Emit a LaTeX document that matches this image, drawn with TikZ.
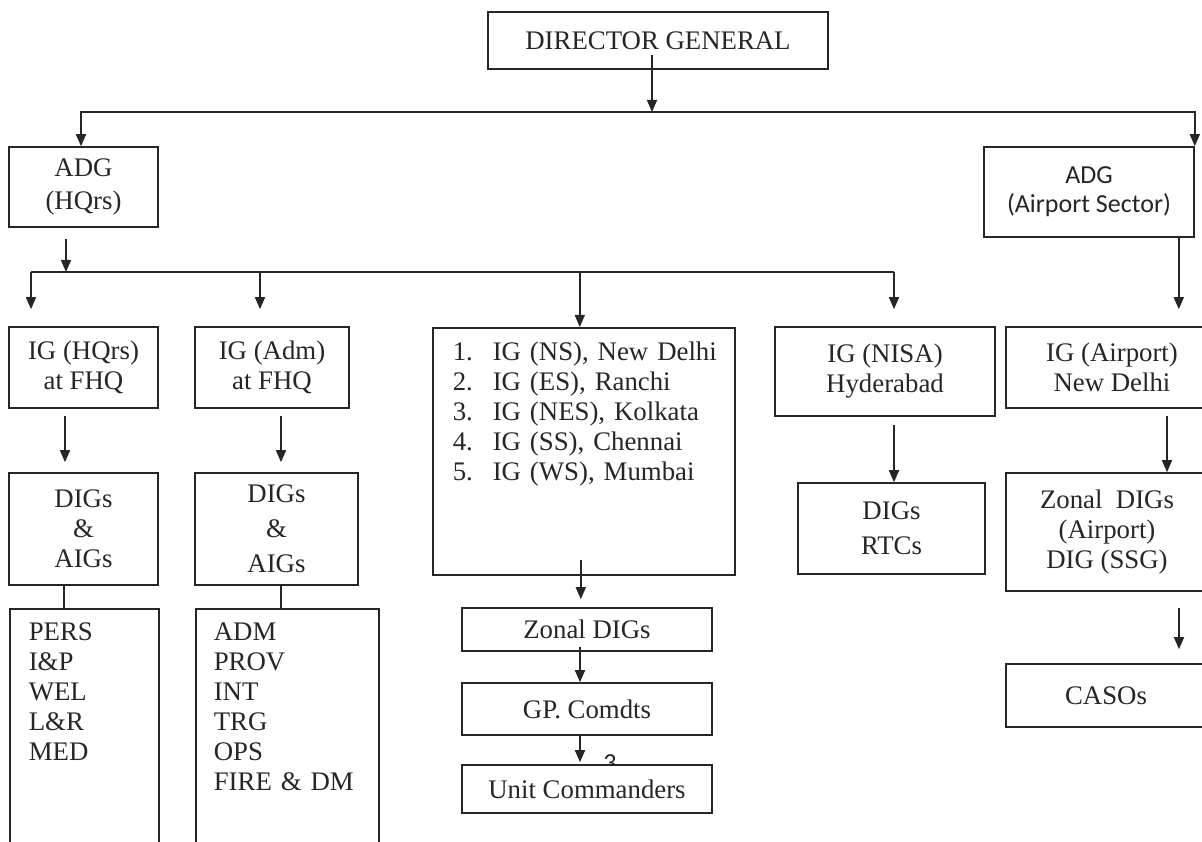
\documentclass[tikz,border=0pt]{standalone}
\usepackage{fontspec}
\setmainfont{Liberation Serif}
\newfontfamily\calfont{Carlito}
\usetikzlibrary{arrows.meta}
\tikzset{
    box/.style={draw, fill=white, inner sep=0pt, align=center, font=\fontsize{26.8}{30}\selectfont},
    listbox/.style={box, anchor=north west, align=left},
    sans/.style={font=\calfont\fontsize{26}{29}\selectfont},
}
\begin{document}
\begin{tikzpicture}[x=1pt, y=-1pt, line width=1.6pt, black!85, >={Triangle[length=12pt,width=10pt]}]
\useasboundingbox (0,0) rectangle (1202,842);
\clip (0,0) rectangle (1202,842);

% top
\node[box, minimum width=340, minimum height=57] (dg) at (658,40.5) {DIRECTOR GENERAL};
\node[box, minimum width=149, minimum height=80] (adgh) at (83.5,187) {ADG\\[3pt](HQrs)};
\node[box, sans, minimum width=210, minimum height=90] (adga) at (1089,192) {ADG\\(Airport Sector)};

% IG row
\node[box, minimum width=149, minimum height=81] (igh) at (83.5,367.5) {IG (HQrs)\\at FHQ};
\node[box, minimum width=154, minimum height=81] (iga) at (272,367.5) {IG (Adm)\\at FHQ};
\node[listbox, text width=262, inner xsep=20, text height=33, text depth=214] (igz) at (432,327)
    {\makebox[40pt][l]{1.}\mbox{IG (NS), New Delhi}\\
     \makebox[40pt][l]{2.}\mbox{IG (ES), Ranchi}\\
     \makebox[40pt][l]{3.}\mbox{IG (NES), Kolkata}\\
     \makebox[40pt][l]{4.}\mbox{IG (SS), Chennai}\\
     \makebox[40pt][l]{5.}\mbox{IG (WS), Mumbai}};
\node[box, minimum width=220, minimum height=89] (ign) at (885,371.5) {IG (NISA)\\Hyderabad};
\node[box, minimum width=212, minimum height=81] (igp) at (1112,367.5) {IG (Airport)\\New Delhi};

% DIG row
\node[box, minimum width=149, minimum height=112] (digh) at (83.5,529) {DIGs\\\&\\AIGs};
\node[box, minimum width=163, minimum height=112] (diga) at (276.5,529) {DIGs\\[5pt]\&\\[5pt]AIGs};
\node[box, minimum width=187, minimum height=91] (digr) at (891.5,528.5) {DIGs\\[5pt]RTCs};
\node[box, minimum width=202, minimum height=118] (zdiga) at (1107,532) {Zonal\ \ DIGs\\(Airport)\\DIG (SSG)};
\node[box, minimum width=200, minimum height=63] (caso) at (1106,695.5) {CASOs};

% middle column
\node[box, minimum width=250, minimum height=43] (zdig) at (587,629.5) {Zonal DIGs};
\node[box, minimum width=250, minimum height=52] (gp) at (587,709) {GP. Comdts};
\node[sans] (pg) at (610,763) {3};
\node[box, minimum width=250, minimum height=48] (unit) at (587,789) {Unit Commanders};

% lists
\node[listbox, text width=111, inner xsep=19, text height=32, text depth=240] (lsth) at (9,608)
    {PERS\\I\&P\\WEL\\L\&R\\MED};
\node[listbox, text width=147, inner xsep=18, text height=32, text depth=240] (lsta) at (195,608)
    {ADM\\PROV\\INT\\TRG\\OPS\\FIRE \& DM};

% connectors
\coordinate (l1) at (652,112);
\coordinate (l2) at (0,272);
\draw[->, shorten <=-15] (dg.south -| l1) -- (l1);
\draw[<->] ([xshift=-2.5]adgh.north) |- (l1) -| (adga.north east);
\draw[->, shorten <=11] ([xshift=-17.5]adgh.south) -- ([xshift=-17.5]adgh.south |- l2);

\coordinate (t1) at ([xshift=-52.5]igh.north);
\coordinate (t2) at ([xshift=-12]iga.north);
\coordinate (t3) at ([xshift=-4]igz.north);
\coordinate (t4) at ([xshift=9]ign.north);
\draw (t1 |- l2) -- (t4 |- l2);
\foreach \t/\gap in {t1/17,t2/17,t3/0,t4/17}
{
    \draw[->, shorten >=\gap] (\t |- l2) -- (\t);
}
\draw[->, shorten >=17] ([xshift=-16]adga.south east) -- ([xshift=-16]adga.south east |- igp.north);

\draw[->, shorten <=7, shorten >=10] ([xshift=-18.5]igh.south) -- ([xshift=-18.5]igh.south |- digh.north);
\draw[->, shorten <=7, shorten >=10] ([xshift=9]iga.south) -- ([xshift=9]iga.south |- diga.north);
\draw ([xshift=-19.5]digh.south) -- ([xshift=-19.5]digh.south |- lsth.north);
\draw ([xshift=4.5]diga.south) -- ([xshift=4.5]diga.south |- lsta.north);
\draw[->, shorten <=8] ([xshift=9]ign.south) -- ([xshift=9]ign.south |- digr.north);
\draw[->, shorten <=7] ([xshift=55]igp.south) -- ([xshift=55]igp.south |- zdiga.north);
\draw[->, shorten <=16, shorten >=14] ([xshift=72]zdiga.south) -- ([xshift=72]zdiga.south |- caso.north);

\draw[->, shorten <=-16, shorten >=8] ([xshift=-3]igz.south) -- ([xshift=-3]igz.south |- zdig.north);
\draw[->, shorten <=-5] ([xshift=-7]zdig.south) -- ([xshift=-7]zdig.south |- gp.north);
\draw[->, shorten >=2] ([xshift=-7]gp.south) -- ([xshift=-7]gp.south |- unit.north);
\end{tikzpicture}
\end{document}
